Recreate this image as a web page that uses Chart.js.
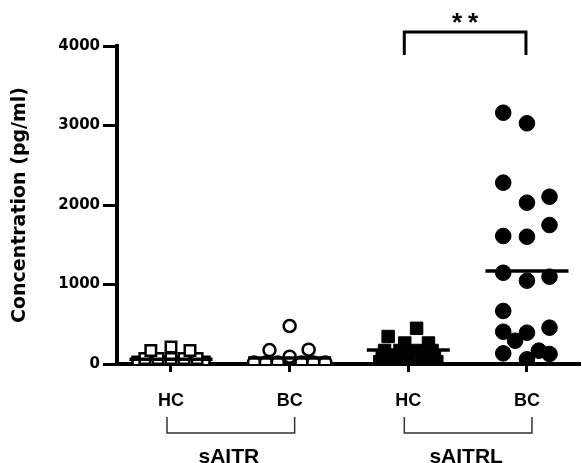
<!DOCTYPE html>
<html>
<head>
<meta charset="utf-8">
<script src="https://cdn.jsdelivr.net/npm/chart.js@4/dist/chart.umd.min.js"></script>
<style>
html,body{margin:0;padding:0;background:#fff;}
#wrap{width:582px;height:463px;}
</style>
</head>
<body>
<div id="wrap"><canvas id="chart" width="582" height="463"></canvas></div>
<script>

//=============================
// DATA
//=============================

const groups = ["sAITR", "sAITRL"];

const subLabels = ["HC", "BC", "HC", "BC"];

const yTicks = [0, 1000, 2000, 3000, 4000];

// sAITR, healthy controls (open squares)
const saitrHC = [25, 25, 25, 25, 25, 25, 70, 70, 70, 70, 70, 170, 215, 170];
const saitrHCJitter = [-0.28, -0.17, -0.06, 0.06, 0.17, 0.28, -0.22, -0.11, 0, 0.11, 0.22, -0.17, 0, 0.16];

// sAITR, breast cancer (open circles)
const saitrBC = [20, 20, 20, 20, 20, 20, 175, 92, 180, 478];
const saitrBCJitter = [-0.3, -0.2, -0.1, 0.1, 0.2, 0.3, -0.17, 0, 0.16, 0];

// sAITRL, healthy controls (filled squares)
const saitrlHC = [30, 30, 30, 30, 30, 100, 100, 100, 100, 100, 170, 170, 170, 170, 346, 264, 264, 449];
const saitrlHCJitter = [-0.24, -0.12, 0, 0.12, 0.24, -0.22, -0.11, 0, 0.11, 0.22, -0.2, -0.07, 0.07, 0.2, -0.17, -0.03, 0.17, 0.07];

// sAITRL, breast cancer (filled circles)
const saitrlBC = [3161, 3028, 2281, 2104, 2029, 1748, 1610, 1601, 1148, 1098, 1048, 667, 457, 406, 394, 293, 168, 134, 126, 59];
const saitrlBCJitter = [-0.2, 0, -0.2, 0.19, 0, 0.19, -0.2, 0, -0.2, 0.19, 0, -0.2, 0.19, -0.2, 0, -0.1, 0.1, -0.2, 0.19, 0];

// group means (horizontal bars)
const means = [60, 75, 176, 1170];

//=============================
// HELPERS
//=============================

function points(values, jitter, pos){
    return values.map((v, i) => ({x: pos + jitter[i], y: v}));
}

function meanLine(i){
    return {
        type: "line",
        data: [{x: i + 1 - 0.35, y: means[i]}, {x: i + 1 + 0.35, y: means[i]}],
        showLine: true,
        borderColor: "#000",
        borderWidth: 3.5,
        pointRadius: 0,
        order: 0,
        clip: false
    };
}

function markers(values, jitter, pos, style, fill, radius, border){
    return {
        data: points(values, jitter, pos),
        pointStyle: style,
        pointRadius: radius,
        pointBackgroundColor: fill,
        pointBorderColor: "#000",
        pointBorderWidth: border,
        order: 1,
        clip: {left: false, top: false, right: false, bottom: 0}
    };
}

//=============================
// ANNOTATIONS
//=============================

const annotations = {
    id: "annotations",
    afterDraw(chart){
        const ctx = chart.ctx;
        const xs = chart.scales.x;
        const area = chart.chartArea;

        ctx.save();

        // group brackets
        ctx.strokeStyle = "#333";
        ctx.lineWidth = 1.5;
        ctx.fillStyle = "#000";
        ctx.font = "bold 21px 'Liberation Sans', Arial";
        ctx.textAlign = "center";
        ctx.textBaseline = "alphabetic";

        groups.forEach((g, i) => {
            const a = xs.getPixelForValue(i * 2 + 1) - 4;
            const b = xs.getPixelForValue(i * 2 + 2) + 5;
            const top = area.bottom + 53;
            const bot = area.bottom + 69;
            ctx.beginPath();
            ctx.moveTo(a, top);
            ctx.lineTo(a, bot);
            ctx.lineTo(b, bot);
            ctx.lineTo(b, top);
            ctx.stroke();
            ctx.fillText(g, (a + b) / 2 - 2, 463);
        });

        // significance bracket
        const s1 = xs.getPixelForValue(3) - 4;
        const s2 = xs.getPixelForValue(4) - 1;
        const st = area.top - 14;
        ctx.lineWidth = 3;
        ctx.strokeStyle = "#000";
        ctx.beginPath();
        ctx.moveTo(s1, area.top + 9);
        ctx.lineTo(s1, st);
        ctx.lineTo(s2, st);
        ctx.lineTo(s2, area.top + 9);
        ctx.stroke();

        ctx.font = "bold 26px 'Liberation Sans', Arial";
        const mid = (s1 + s2) / 2;
        ctx.fillText("*", mid - 8, 31);
        ctx.fillText("*", mid + 8, 31);

        ctx.restore();
    }
};

//=============================
// CHART
//=============================

Chart.defaults.font.family = "'Liberation Sans', Arial";
Chart.defaults.color = "#000";

new Chart(document.getElementById("chart"), {
    type: "scatter",
    data: {
        datasets: [
            markers(saitrHC, saitrHCJitter, 1, "rect", "#fff", 7.4, 2.5),
            markers(saitrBC, saitrBCJitter, 2, "circle", "#fff", 6, 2.5),
            markers(saitrlHC, saitrlHCJitter, 3, "rect", "#000", 8.8, 1),
            markers(saitrlBC, saitrlBCJitter, 4, "circle", "#000", 7.8, 1),
            meanLine(0),
            meanLine(1),
            meanLine(2),
            meanLine(3)
        ]
    },
    options: {
        responsive: false,
        animation: false,
        events: [],
        layout: {autoPadding: false, padding: {top: 46, right: 2, bottom: 0, left: 0}},
        plugins: {
            legend: {display: false},
            tooltip: {enabled: false}
        },
        scales: {
            x: {
                type: "linear",
                min: 0.545,
                max: 4.447,
                afterFit(scale){ scale.height = 99; },
                afterBuildTicks(scale){
                    scale.ticks = subLabels.map((l, i) => ({value: i + 1}));
                },
                ticks: {
                    callback: (v) => subLabels[v - 1],
                    font: {size: 18, weight: "bold"},
                    padding: 18,
                    maxRotation: 0,
                    autoSkip: false
                },
                grid: {
                    drawOnChartArea: false,
                    tickLength: 8,
                    tickWidth: 3,
                    color: "#000"
                },
                border: {display: true, width: 4, color: "#000"}
            },
            y: {
                min: 0,
                max: 4000,
                afterFit(scale){ scale.width = 117; },
                afterBuildTicks(scale){
                    scale.ticks = yTicks.map(v => ({value: v}));
                },
                ticks: {
                    callback: (v) => String(v),
                    font: {family: "'DejaVu Sans'", size: 15, weight: "bold"},
                    padding: 3
                },
                grid: {
                    drawOnChartArea: false,
                    tickLength: 14,
                    tickWidth: 3,
                    color: "#000"
                },
                border: {display: true, width: 4, color: "#000"},
                title: {
                    display: true,
                    text: "Concentration (pg/ml)",
                    font: {family: "'DejaVu Sans'", size: 19, weight: "bold"},
                    padding: {top: 9, bottom: 0}
                }
            }
        }
    },
    plugins: [annotations]
});

</script>
</body>
</html>
